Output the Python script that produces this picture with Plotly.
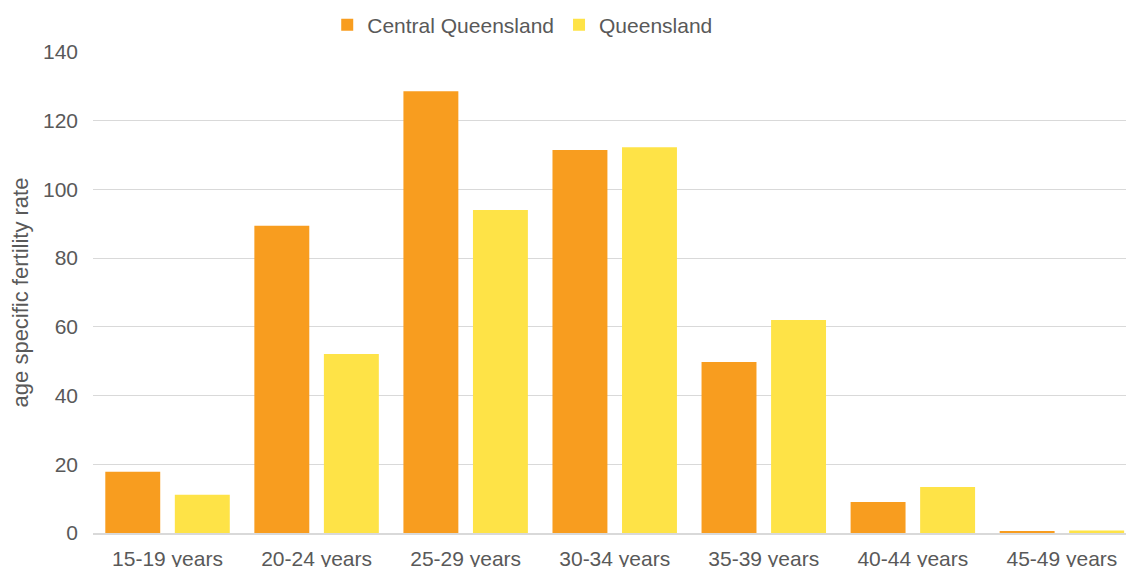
import plotly.graph_objects as go

categories = ["15-19 years", "20-24 years", "25-29 years", "30-34 years",
              "35-39 years", "40-44 years", "45-49 years"]
central_qld = [17.8, 89.4, 128.6, 111.5, 49.8, 9.0, 0.4]
queensland = [11.1, 52.1, 94.0, 112.3, 62.0, 13.4, 0.7]

FONT = "Liberation Sans, Arial, sans-serif"
GREY = "#595959"

fig = go.Figure()
fig.add_trace(go.Bar(name="Central Queensland", x=categories, y=central_qld,
                     marker=dict(color="#F89D1F", line=dict(width=0))))
fig.add_trace(go.Bar(name="Queensland", x=categories, y=queensland,
                     marker=dict(color="#FEE347", line=dict(width=0))))

fig.update_layout(
    width=1126, height=567,
    margin=dict(l=93, r=0, t=52, b=34, autoexpand=False),
    paper_bgcolor="white", plot_bgcolor="white",
    barmode="group", bargap=0.067, bargroupgap=0.21,
    font=dict(family=FONT, color=GREY, size=21),
    legend=dict(orientation="h", x=0.416, xanchor="center", y=1.056, yanchor="middle",
                font=dict(size=21, color=GREY), bgcolor="rgba(0,0,0,0)",
                itemwidth=30, traceorder="normal"),
    showlegend=True,
)
fig.update_xaxes(
    type="category", range=[-0.5, 6.43], showgrid=False,
    showline=True, linecolor="#D9D9D9", linewidth=1.5,
    ticks="", tickfont=dict(size=21, color=GREY), ticklabelstandoff=6,
    automargin=False,
)
fig.update_yaxes(
    range=[0, 140], dtick=20, showgrid=True, gridcolor="#D9D9D9", gridwidth=1,
    zeroline=False, showline=False, ticks="",
    tickfont=dict(size=21, color=GREY), ticklabelstandoff=14,
    title=dict(text="age specific fertility rate", font=dict(size=22, color=GREY), standoff=8),
    automargin=False,
)

fig.write_html(
    "out.html",
    config={"displayModeBar": False},
    post_script="document.body.style.margin='0';document.body.style.overflow='hidden';",
)
